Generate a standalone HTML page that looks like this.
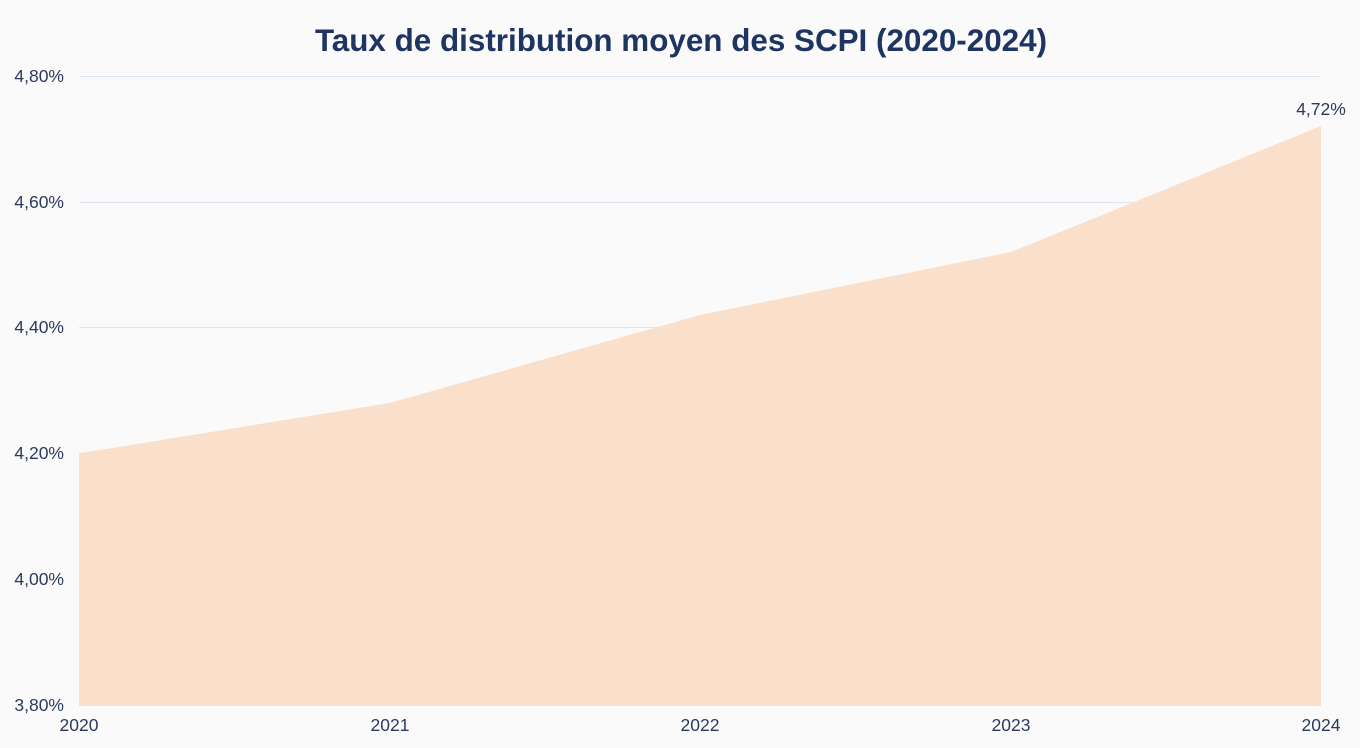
<!DOCTYPE html>
<html><head><meta charset="utf-8"><style>
html,body{margin:0;padding:0;background:#fafafb;}
svg{display:block}
text{font-family:"Liberation Sans",sans-serif;fill:#2b3a5c}
</style></head><body>
<svg width="1360" height="748" viewBox="0 0 1360 748">
<rect width="1360" height="748" fill="#fafafb"/>
<text x="681" y="51" text-anchor="middle" font-size="31.4" font-weight="bold" style="fill:#1e3461">Taux de distribution moyen des SCPI (2020-2024)</text>
<g stroke="#dde6f3" stroke-width="1">
<line x1="79" x2="1321" y1="76.5" y2="76.5"/>
<line x1="79" x2="1321" y1="202.5" y2="202.5"/>
<line x1="79" x2="1321" y1="327.5" y2="327.5"/>
<line x1="79" x2="1321" y1="453.5" y2="453.5"/>
<line x1="79" x2="1321" y1="579.5" y2="579.5"/>
<line x1="79" x2="1321" y1="705.5" y2="705.5"/>
</g>
<polygon points="79,453.4 390,403 700,315 1011,252 1321,126 1321,705 79,705" fill="#fadfca"/>
<g font-size="17.5" text-anchor="end">
<text x="64" y="82">4,80%</text>
<text x="64" y="208">4,60%</text>
<text x="64" y="333">4,40%</text>
<text x="64" y="459">4,20%</text>
<text x="64" y="585">4,00%</text>
<text x="64" y="711">3,80%</text>
</g>
<g font-size="17.5" text-anchor="middle">
<text x="79" y="731">2020</text>
<text x="390" y="731">2021</text>
<text x="700" y="731">2022</text>
<text x="1011" y="731">2023</text>
<text x="1321" y="731">2024</text>
<text x="1321" y="115">4,72%</text>
</g>
</svg>
</body></html>
